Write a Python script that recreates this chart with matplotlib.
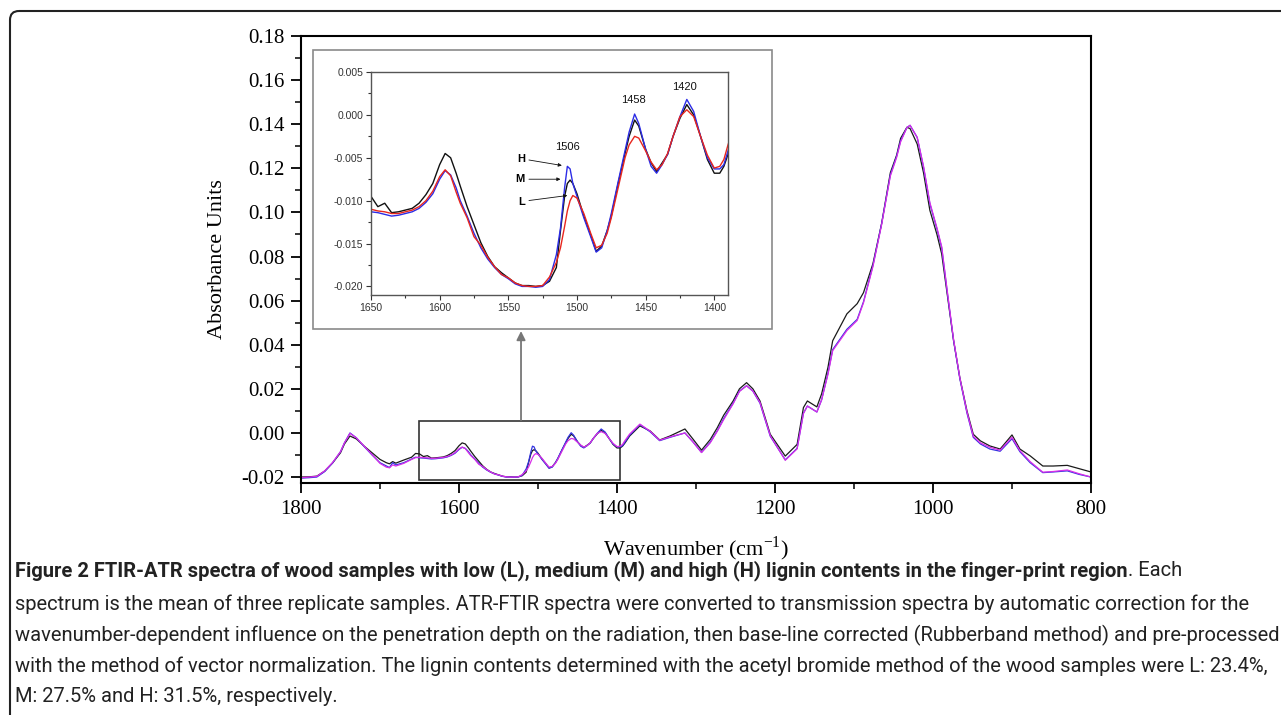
import numpy as np
import matplotlib.pyplot as plt
from matplotlib.patches import Rectangle, FancyBboxPatch
from matplotlib.ticker import MultipleLocator, FormatStrFormatter

plt.rcParams['axes.unicode_minus'] = False

# FTIR-ATR spectra (wavenumber in cm-1, absorbance units)
wavenumber = [1800, 1790, 1780, 1770, 1760, 1750, 1745, 1738, 1730, 1720,
              1710, 1700, 1692, 1688, 1684, 1680, 1670, 1660, 1655, 1650,
              1645, 1640, 1635, 1630, 1625, 1620, 1615, 1610, 1605, 1600,
              1596, 1592, 1588, 1585, 1580, 1575, 1570, 1565, 1560, 1555,
              1550, 1545, 1540, 1535, 1530, 1525, 1520, 1515, 1512, 1509,
              1507, 1505, 1503, 1500, 1495, 1490, 1486, 1482, 1478, 1475,
              1470, 1465, 1462, 1458, 1455, 1450, 1446, 1442, 1438, 1434,
              1430, 1425, 1420, 1415, 1410, 1405, 1400, 1396, 1393, 1390,
              1384, 1371, 1358, 1346, 1333, 1314, 1304, 1293, 1282, 1273,
              1265, 1253, 1245, 1236, 1228, 1219, 1206, 1187, 1172, 1164,
              1159, 1147, 1141, 1133, 1127, 1109, 1096, 1088, 1076, 1065,
              1054, 1046, 1041, 1033, 1029, 1020, 1012, 1004, 995, 989,
              982, 974, 966, 957, 949, 940, 928, 915, 900, 890,
              877, 861, 848, 830, 815, 800]

# medium lignin content (M)
absorb_M = [-0.0200, -0.0199, -0.0196, -0.0173, -0.0136, -0.0090, -0.0050, -0.0014, -0.0027, -0.0060,
            -0.0090, -0.0120, -0.0135, -0.0140, -0.0130, -0.0137, -0.0123, -0.0110, -0.0093, -0.0095,
            -0.0107, -0.0103, -0.0114, -0.0113, -0.0111, -0.0109, -0.0103, -0.0093, -0.0080, -0.0058,
            -0.0045, -0.0050, -0.0068, -0.0083, -0.0107, -0.0128, -0.0149, -0.0165, -0.0177, -0.0184,
            -0.0190, -0.0196, -0.0199, -0.0199, -0.0200, -0.0199, -0.0194, -0.0178, -0.0135, -0.0095,
            -0.0080, -0.0076, -0.0080, -0.0092, -0.0118, -0.0140, -0.0159, -0.0153, -0.0135, -0.0118,
            -0.0080, -0.0045, -0.0025, -0.0006, -0.0013, -0.0040, -0.0056, -0.0066, -0.0056, -0.0046,
            -0.0025, -0.0004, 0.0012, 0.0000, -0.0025, -0.0052, -0.0068, -0.0068, -0.0060, -0.0046,
            -0.0014, 0.0032, 0.0009, -0.0032, -0.0014, 0.0018, -0.0027, -0.0078, -0.0030, 0.0024,
            0.0080, 0.0145, 0.0200, 0.0228, 0.0200, 0.0145, -0.0006, -0.0105, -0.0052, 0.0115,
            0.0145, 0.0118, 0.0177, 0.0297, 0.0418, 0.0540, 0.0586, 0.0636, 0.0768, 0.0950,
            0.1180, 0.1260, 0.1336, 0.1386, 0.1380, 0.1310, 0.1180, 0.1010, 0.0900, 0.0812,
            0.0630, 0.0420, 0.0250, 0.0100, -0.0006, -0.0036, -0.0059, -0.0073, -0.0009, -0.0073,
            -0.0104, -0.0150, -0.0150, -0.0147, -0.0162, -0.0177]

# high lignin content (H)
absorb_H = [-0.0205, -0.0203, -0.0200, -0.0175, -0.0136, -0.0085, -0.0045, 0.0000, -0.0022, -0.0062,
            -0.0100, -0.0135, -0.0150, -0.0157, -0.0135, -0.0145, -0.0135, -0.0118, -0.0110, -0.0113,
            -0.0114, -0.0116, -0.0118, -0.0117, -0.0115, -0.0113, -0.0109, -0.0102, -0.0092, -0.0075,
            -0.0065, -0.0070, -0.0085, -0.0100, -0.0118, -0.0138, -0.0155, -0.0168, -0.0178, -0.0186,
            -0.0191, -0.0197, -0.0200, -0.0200, -0.0201, -0.0200, -0.0192, -0.0163, -0.0132, -0.0085,
            -0.0060, -0.0063, -0.0080, -0.0095, -0.0120, -0.0142, -0.0160, -0.0155, -0.0135, -0.0115,
            -0.0078, -0.0042, -0.0020, 0.0001, -0.0010, -0.0040, -0.0060, -0.0068, -0.0058, -0.0046,
            -0.0025, -0.0002, 0.0018, 0.0004, -0.0025, -0.0050, -0.0063, -0.0063, -0.0058, -0.0042,
            -0.0010, 0.0038, 0.0005, -0.0035, -0.0020, 0.0000, -0.0040, -0.0088, -0.0042, 0.0010,
            0.0065, 0.0135, 0.0190, 0.0214, 0.0190, 0.0135, -0.0015, -0.0122, -0.0070, 0.0090,
            0.0122, 0.0095, 0.0150, 0.0270, 0.0378, 0.0470, 0.0515, 0.0595, 0.0760, 0.0950,
            0.1170, 0.1255, 0.1325, 0.1385, 0.1395, 0.1340, 0.1205, 0.1040, 0.0925, 0.0840,
            0.0640, 0.0420, 0.0245, 0.0090, -0.0020, -0.0050, -0.0073, -0.0083, -0.0026, -0.0085,
            -0.0135, -0.0180, -0.0177, -0.0172, -0.0188, -0.0200]

# low lignin content (L)
absorb_L = [-0.0203, -0.0200, -0.0197, -0.0172, -0.0134, -0.0085, -0.0045, -0.0002, -0.0022, -0.0060,
            -0.0098, -0.0138, -0.0155, -0.0158, -0.0145, -0.0150, -0.0138, -0.0120, -0.0112, -0.0110,
            -0.0112, -0.0113, -0.0115, -0.0115, -0.0113, -0.0111, -0.0107, -0.0100, -0.0089, -0.0072,
            -0.0064, -0.0071, -0.0090, -0.0103, -0.0120, -0.0142, -0.0152, -0.0166, -0.0177, -0.0186,
            -0.0190, -0.0196, -0.0199, -0.0200, -0.0200, -0.0199, -0.0189, -0.0172, -0.0155, -0.0130,
            -0.0112, -0.0100, -0.0094, -0.0097, -0.0115, -0.0138, -0.0155, -0.0152, -0.0138, -0.0120,
            -0.0085, -0.0050, -0.0035, -0.0025, -0.0027, -0.0042, -0.0055, -0.0064, -0.0058, -0.0045,
            -0.0025, -0.0002, 0.0006, -0.0002, -0.0025, -0.0047, -0.0062, -0.0060, -0.0052, -0.0035,
            -0.0005, 0.0040, 0.0008, -0.0033, -0.0018, 0.0000, -0.0040, -0.0089, -0.0045, 0.0008,
            0.0060, 0.0132, 0.0188, 0.0214, 0.0190, 0.0138, -0.0012, -0.0124, -0.0072, 0.0088,
            0.0122, 0.0095, 0.0150, 0.0265, 0.0373, 0.0464, 0.0510, 0.0590, 0.0755, 0.0945,
            0.1165, 0.1250, 0.1320, 0.1385, 0.1395, 0.1340, 0.1210, 0.1045, 0.0930, 0.0845,
            0.0645, 0.0425, 0.0250, 0.0095, -0.0015, -0.0045, -0.0065, -0.0078, -0.0020, -0.0080,
            -0.0130, -0.0178, -0.0175, -0.0168, -0.0185, -0.0200]

# peak labels in the inset
peak_labels = ['1506', '1458', '1420']
peak_pos = [(1507, -0.0043), (1459, 0.0012), (1422, 0.0027)]
sample_labels = ['H', 'M', 'L']
sample_text_pos = [(1538, -0.0051), (1538, -0.0075), (1538, -0.0101)]
sample_arrow_tip = [(1511, -0.0059), (1512, -0.0075), (1507, -0.0094)]

caption_bold = ("Figure 2 FTIR-ATR spectra of wood samples with low (L), medium (M) and "
                "high (H) lignin contents in the finger-print region")
caption_lines = [
    ". Each",
    "spectrum is the mean of three replicate samples. ATR-FTIR spectra were converted to "
    "transmission spectra by automatic correction for the",
    "wavenumber-dependent influence on the penetration depth on the radiation, then base-line "
    "corrected (Rubberband method) and pre-processed",
    "with the method of vector normalization. The lignin contents determined with the acetyl "
    "bromide method of the wood samples were L: 23.4%,",
    "M: 27.5% and H: 31.5%, respectively.",
]

W, H = 1281, 715
fig = plt.figure(figsize=(W / 100, H / 100), dpi=100)

# page layer in pixel coordinates: rounded frame + caption
page = fig.add_axes([0, 0, 1, 1])
page.set_xlim(0, W)
page.set_ylim(H, 0)
page.axis('off')
page.add_patch(FancyBboxPatch((10, 11), 1500, 900, boxstyle='round,pad=0,rounding_size=9',
                              fc='none', ec='#222222', lw=1.5))
# grey frame around the inset
page.add_patch(Rectangle((313, 50), 772 - 313, 329 - 50, fc='white', ec='#8a8a8a', lw=1.2))

cap_font = ['Roboto', 'DejaVu Sans']
cap_y = [571, 604, 635, 666, 697]
cap_color = '#222222'
base_size = 12.0
t0 = page.text(15, cap_y[0], caption_bold, fontsize=base_size, fontweight='bold',
               family=cap_font, color=cap_color, va='center', ha='left')
t1 = page.text(15, cap_y[0], caption_lines[0], fontsize=base_size, family=cap_font,
               color=cap_color, va='center', ha='left')
body = [page.text(15, y, line, fontsize=base_size, family=cap_font, color=cap_color,
                  va='center', ha='left')
        for line, y in zip(caption_lines[1:], cap_y[1:])]
# scale the caption so the long lines span the same width as in the figure
fig.canvas.draw()
width = body[2].get_window_extent().width
size = base_size * 1255 / width
for t in [t0, t1] + body:
    t.set_fontsize(size)
fig.canvas.draw()
bb = t0.get_window_extent()
t1.set_x(page.transData.inverted().transform((bb.x1, bb.y0))[0])

# main spectrum
serif = ['Liberation Serif', 'DejaVu Serif']
ax = fig.add_axes([301 / W, 1 - 483 / H, 790 / W, 447 / H])
ax.patch.set_visible(False)
ax.plot(wavenumber, absorb_M, color='#1a1a1a', lw=0.9)
ax.plot(wavenumber, absorb_H, color='#3434e0', lw=0.9)
ax.plot(wavenumber, absorb_L, color='#d82ee8', lw=0.9)
ax.set_xlim(1800, 800)
ax.set_ylim(-0.0227, 0.18)
ax.xaxis.set_major_locator(MultipleLocator(200))
ax.xaxis.set_minor_locator(MultipleLocator(100))
ax.yaxis.set_major_locator(MultipleLocator(0.02))
ax.yaxis.set_minor_locator(MultipleLocator(0.01))
ax.yaxis.set_major_formatter(FormatStrFormatter('%.2f'))
ax.tick_params(which='major', direction='out', length=7, width=1.3, labelsize=15, pad=5)
ax.tick_params(which='minor', direction='out', length=4, width=1.1)
for lab in ax.get_xticklabels() + ax.get_yticklabels():
    lab.set_family(serif)
for s in ax.spines.values():
    s.set_linewidth(1.5)
ax.set_xlabel('Wavenumber (cm$^{\\mathregular{-1}}$)', fontsize=16, family=serif, labelpad=11)
ax.set_ylabel('Absorbance Units', fontsize=16, family=serif, labelpad=10)

# zoom region and arrow to inset
ax.add_patch(Rectangle((1396, -0.0214), 254, 0.0269, fc='none', ec='#333333', lw=1.2))
ax.annotate('', xy=(1521.5, 0.0462), xytext=(1521.5, 0.0058),
            arrowprops=dict(arrowstyle='-|>', color='#777777', lw=1.3,
                            mutation_scale=13, shrinkA=0, shrinkB=0))

# inset
sans = ['Liberation Sans', 'DejaVu Sans']
axi = fig.add_axes([371 / W, 1 - 295 / H, 357 / W, 223 / H])
axi.plot(wavenumber, absorb_M, color='#111111', lw=1.0)
axi.plot(wavenumber, absorb_H, color='#2c2ce6', lw=1.0)
axi.plot(wavenumber, absorb_L, color='#e8261e', lw=1.0)
axi.set_xlim(1650, 1390)
axi.set_ylim(-0.0210, 0.005)
axi.xaxis.set_major_locator(MultipleLocator(50))
axi.xaxis.set_minor_locator(MultipleLocator(25))
axi.yaxis.set_major_locator(MultipleLocator(0.005))
axi.yaxis.set_minor_locator(MultipleLocator(0.0025))
axi.yaxis.set_major_formatter(FormatStrFormatter('%.3f'))
axi.tick_params(which='both', direction='out', labelsize=7.5, width=0.8, colors='#333333',
                top=False, right=False)
axi.tick_params(which='major', length=3.5, pad=2)
axi.tick_params(which='minor', length=2)
for lab in axi.get_xticklabels() + axi.get_yticklabels():
    lab.set_family(sans)
for s in axi.spines.values():
    s.set_linewidth(1.0)
    s.set_color('#555555')

for lab, (x, y) in zip(peak_labels, peak_pos):
    axi.text(x, y, lab, fontsize=8, ha='center', va='bottom', color='#111111', family=sans)
for lab, (x, y), tip in zip(sample_labels, sample_text_pos, sample_arrow_tip):
    axi.annotate(lab, xy=tip, xytext=(x, y), fontsize=8, fontweight='bold', ha='right',
                 va='center', family=sans,
                 arrowprops=dict(arrowstyle='-|>', color='#111111', lw=0.6,
                                 mutation_scale=5, shrinkA=1, shrinkB=0))

fig.savefig('out.png', dpi=100)
